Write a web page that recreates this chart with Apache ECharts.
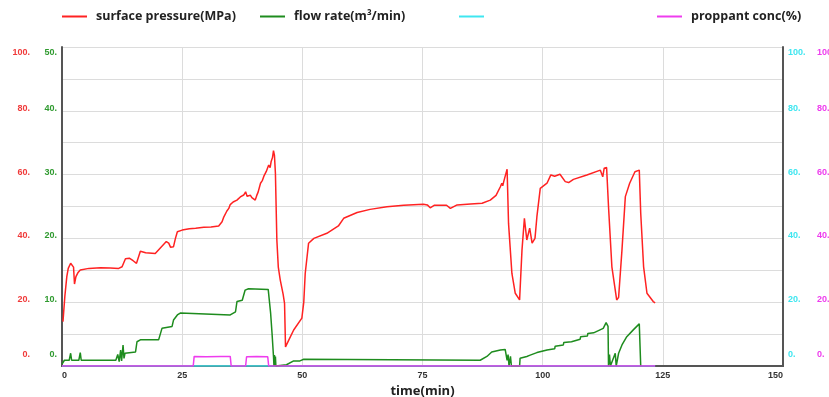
<!DOCTYPE html>
<html>
<head>
<meta charset="utf-8">
<script src="https://cdn.jsdelivr.net/npm/echarts@6/dist/echarts.min.js"></script>
<style>html,body{margin:0;padding:0;background:#fff}#c{width:829px;height:397px}</style>
</head>
<body>
<div id="c"></div>
<script>
// ---- data ----
const xTicks = [0, 25, 50, 75, 100, 125, 150];
const seriesNames = ['surface pressure(MPa)', 'flow rate(m\u00b3/min)', ' ', 'proppant conc(%)'];

const pressureTime = [0.2,0.6,1.0,1.3,1.8,2.2,2.4,2.6,2.9,3.3,3.8,5.6,8,10,11.8,12.5,13.2,14,14.8,15.5,16.3,17.4,19.4,20.5,21.7,22.2,22.6,23.2,23.6,24,25,26.5,27.8,29.5,31,32.6,33.3,33.6,34,34.3,34.7,35,35.3,35.6,36,36.4,36.8,37.1,37.5,37.8,38.2,38.5,38.8,39.2,39.5,39.9,40.2,40.5,40.8,41.3,41.7,42,42.5,43,43.3,43.5,43.8,44,44.2,44.4,44.7,45,45.4,46,46.3,46.5,47.2,48.2,49.9,50.3,50.6,51.3,52.4,55.1,57.5,58.6,61.4,64.1,67.6,71.1,75.2,76,76.6,77.5,80,80.8,82.2,85,87.4,87.8,89.1,90.3,91.2,91.5,91.7,91.9,92.6,92.9,93.6,94.3,95.2,95.7,96.2,96.7,97.3,97.8,98.4,98.8,99.5,100.9,101.7,102.5,103.6,104.7,105.4,106.4,109.2,112,112.5,112.8,113.3,113.7,114.4,115.4,115.8,116.5,117.2,118.1,119.2,120.1,120.4,121,121.7,123,123.4];
const pressureValues = [13.9,22,28,30.6,32.2,32.2,31,25.7,28,29.2,30.1,30.6,30.8,30.7,30.6,31.1,33.6,33.8,33,32.2,36,35.5,35.3,37.1,39,38.5,37.2,37.4,40,42.1,42.6,43,43.2,43.5,43.6,43.9,45.2,46.5,47,48.6,49.4,50.6,50.2,51.4,50.8,52,51.5,53,52.5,53.6,54.6,53.2,52.6,53.5,52.8,52.2,52,53.4,54.5,57.3,58.2,59.5,61,63,62.2,64,65.4,67.5,66,60.4,39.5,31,27,22.5,19.6,6,8.2,11.3,15,20,29,38.5,40,41.6,43.9,46.3,48.1,49.1,49.9,50.4,50.7,50.5,49.6,50.4,50.4,49.4,50.5,50.8,51,50.4,52,53.5,56.2,57.3,56.5,57.8,61.7,44.7,29,22.8,20.7,36.4,46.3,39.5,43.2,38.5,40,46.8,55.7,57.3,59.9,59.5,60.1,57.8,57.5,58.5,59.9,61.4,59.3,62,62.2,49.9,31.1,20.7,21.5,36.4,53.1,57.3,60.9,61.4,47.9,31.1,22.8,20.2,19.8];

const flowTime = [0,0.5,1.5,1.8,2.0,3.5,3.8,4.0,11.2,11.6,11.9,12.2,12.4,12.7,12.9,13.1,15.3,15.6,16.3,20.1,20.8,22.9,23.2,24,24.6,35,36.1,36.4,37.5,38.1,38.8,42.9,43.4,43.7,44,44.1,44.2,44.3,44.4,44.5,46.7,48.2,49.5,50.3,87,88.4,89.4,91.2,92.2,92.6,92.8,93,93.3,93.5,93.9,95.2,95.3,96.7,97.4,98.8,100.9,102.5,102.6,104.3,104.4,106,106.1,107.8,107.9,109.3,109.4,110.6,110.7,112.6,113.2,113.6,113.7,113.9,114.1,114.4,115.1,115.3,115.6,115.8,116.5,117.5,118.9,120.1,120.4];
const flowValues = [0.3,0.9,0.9,2,0.9,0.9,2.1,0.9,0.9,1.8,0.7,2.5,0.8,3.3,1.2,2,2.2,3.8,4.1,4.1,5.9,6.2,7.2,8,8.3,8,8.5,10.1,10.3,11.9,12.1,12,8.3,5.1,1.5,0,1.7,0,1.5,0,0.2,0.8,0.8,1.05,0.9,1.5,2.2,2.5,2.6,0.9,1.8,0,1.5,0,0,0,1.2,1.5,1.7,2.1,2.5,2.7,3.1,3.3,3.7,3.8,4.1,4.2,4.6,4.7,5.1,5.2,5.5,5.9,6.8,6.2,0,1.8,0,0,2,0,0,2,3.3,4.6,5.7,6.6,0];

const cyanTime = [0, 123.4];
const cyanValues = [0, 0];

const concTime = [0,27.3,27.5,30,33,35,35.2,38.2,38.4,40.5,42.8,43,123.4];
const concValues = [0,0,3.0,2.9,3.0,3.0,0,0,2.9,3.0,2.9,0,0];

// ---- build ----
function pairs(t, v) { return t.map((x, i) => [x, v[i]]); }
const colors = ['#ff2222', '#1e8c1e', '#3fe6f0', '#ee3cee'];
const labelColors = ['#f03a3a', '#2f9a2f', '#3fe6f0', '#ee3cee'];
const legendLefts = [62, 260, 459, 657];

const chart = echarts.init(document.getElementById('c'), null, {renderer: 'canvas'});
const labelBase = {fontSize: 9, fontWeight: 'bold', fontFamily: 'Liberation Sans, Arial, sans-serif'};

function yAxis(idx, pos, offset, max, interval, grid) {
  const tok = {fontSize: 9, fontWeight: 'bold', fontFamily: 'Liberation Sans, Arial, sans-serif', color: labelColors[idx]};
  return {
    type: 'value', position: pos, offset: offset, min: 0, max: max, interval: interval,
    axisLine: {show: offset === 0, lineStyle: {color: '#555', width: 2}},
    axisTick: {show: false},
    splitLine: {show: grid, lineStyle: {color: '#dcdcdc', width: 1}},
    axisLabel: Object.assign({}, labelBase, {
      color: labelColors[idx], margin: 5,
      formatter: v => {
        if (v % (max / 5) !== 0) return '';
        if (v === 0) return '{lo|0.}';
        if (v === max) return '{hi|' + v + '.}';
        return '{md|' + v + '.}';
      },
      rich: {
        lo: Object.assign({padding: [0, 0, 7, 0]}, tok),
        md: Object.assign({padding: [0, 0, 5, 0]}, tok),
        hi: Object.assign({padding: [1, 0, 0, 0]}, tok)
      },
      verticalAlignMaxLabel: 'top', verticalAlignMinLabel: 'bottom'
    })
  };
}

chart.setOption({
  animation: false,
  backgroundColor: '#fff',
  legend: seriesNames.map((n, i) => ({
    data: [n], left: legendLefts[i], top: 10, padding: 0, icon: 'rect', itemWidth: 25, itemHeight: 2,
    selectedMode: false,
    textStyle: {fontSize: 12.5, fontWeight: 'bold', color: '#222', fontFamily: 'Open Sans, sans-serif', padding: [0, 0, 0, 4]}
  })),
  grid: {left: 62, right: 46, top: 47, bottom: 31, containLabel: false, outerBoundsMode: 'none'},
  xAxis: [{
    type: 'value', min: xTicks[0], max: xTicks[xTicks.length - 1], interval: 25,
    axisLine: {show: true, lineStyle: {color: '#555', width: 2}},
    axisTick: {show: false},
    splitLine: {show: true, lineStyle: {color: '#dcdcdc', width: 1}},
    axisLabel: Object.assign({}, labelBase, {color: '#333', margin: 5, alignMinLabel: 'left', alignMaxLabel: 'right'}),
    name: 'time(min)', nameLocation: 'middle', nameGap: 16,
    nameTextStyle: {fontSize: 13, fontWeight: 'bold', color: '#222', fontFamily: 'Open Sans, sans-serif'}
  }, {
    type: 'value', position: 'top', min: 0, max: 150,
    axisLine: {show: true, lineStyle: {color: '#555', width: 2}},
    axisTick: {show: false}, axisLabel: {show: false}, splitLine: {show: false}
  }],
  yAxis: [
    yAxis(0, 'left', 27, 100, 10, true),
    yAxis(1, 'left', 0, 50, 10, false),
    yAxis(2, 'right', 0, 100, 20, false),
    yAxis(3, 'right', 29, 100, 20, false)
  ],
  series: [
    {name: seriesNames[0], type: 'line', yAxisIndex: 0, data: pairs(pressureTime, pressureValues), showSymbol: false, lineStyle: {color: colors[0], width: 1.5}, itemStyle: {color: colors[0]}, z: 4},
    {name: seriesNames[1], type: 'line', yAxisIndex: 1, data: pairs(flowTime, flowValues), showSymbol: false, lineStyle: {color: colors[1], width: 1.5}, itemStyle: {color: colors[1]}, z: 3},
    {name: seriesNames[2], type: 'line', yAxisIndex: 2, data: pairs(cyanTime, cyanValues), showSymbol: false, lineStyle: {color: colors[2], width: 1.5}, itemStyle: {color: colors[2]}, z: 2},
    {name: seriesNames[3], type: 'line', yAxisIndex: 3, data: pairs(concTime, concValues), showSymbol: false, lineStyle: {color: colors[3], width: 1.5}, itemStyle: {color: colors[3]}, z: 3}
  ]
});
</script>
</body>
</html>
